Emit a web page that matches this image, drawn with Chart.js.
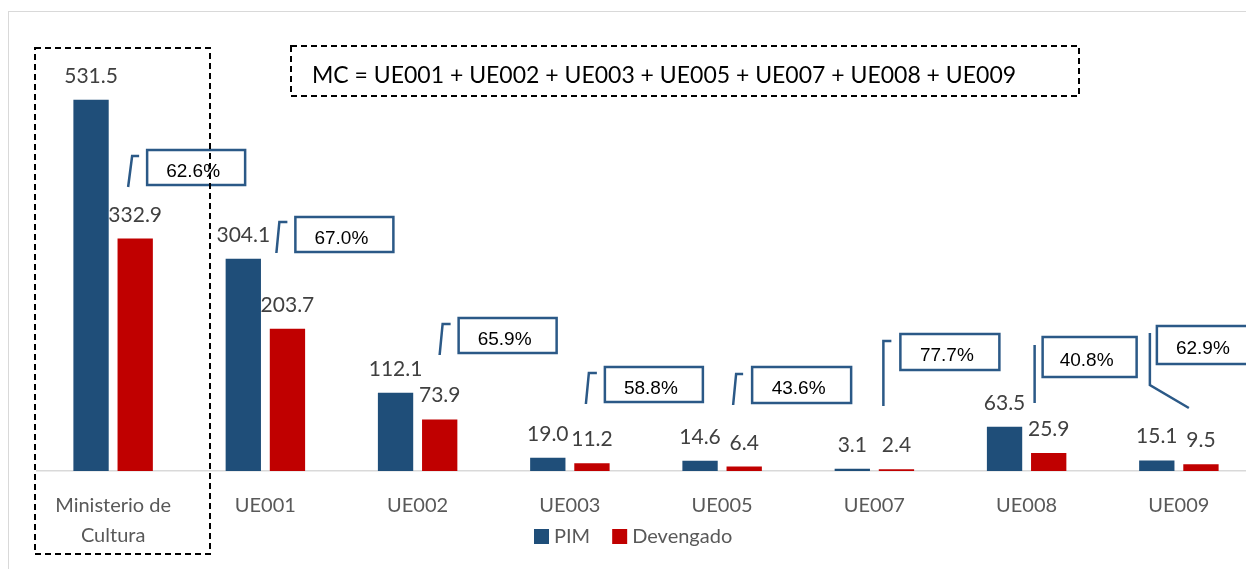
<!DOCTYPE html>
<html>
<head>
<meta charset="utf-8">
<script src="https://cdn.jsdelivr.net/npm/chart.js@4.4.0/dist/chart.umd.min.js"></script>
<style>
    html, body { margin: 0; padding: 0; background: #fff; overflow: hidden; width: 1246px; height: 569px; }
    #frame { position: absolute; left: 8px; top: 11px; width: 1300px; height: 600px; border: 1px solid #d9d9d9; }
    #chartContainer { position: absolute; left: 0; top: 0; width: 1260px; height: 569px; }
</style>
</head>
<body>
<div id="frame"></div>
<div id="chartContainer"><canvas id="myChart" width="1260" height="569"></canvas></div>
<script>
const categories = [["Ministerio de", "Cultura"], "UE001", "UE002", "UE003", "UE005", "UE007", "UE008", "UE009"];
const pim = [531.5, 304.1, 112.1, 19.0, 14.6, 3.1, 63.5, 15.1];
const devengado = [332.9, 203.7, 73.9, 11.2, 6.4, 2.4, 25.9, 9.5];
const avance = [62.6, 67.0, 65.9, 58.8, 43.6, 77.7, 40.8, 62.9];
const formula = "MC = UE001 + UE002 + UE003 + UE005 + UE007 + UE008 + UE009";

// where each % callout sits: offset from the category centre, box top, size, leader line (relative to box corner)
const calloutPos = [
    { dx: 34, top: 150, w: 98, h: 35, leader: [[-19, 37], [-15, 6], [-8, 6]] },
    { dx: 30, top: 217, w: 98, h: 35, leader: [[-19, 36], [-16, 5], [-8, 5]] },
    { dx: 41, top: 318, w: 98, h: 35, leader: [[-19, 37], [-16, 6], [-8, 6]] },
    { dx: 35, top: 367, w: 98, h: 35, leader: [[-19, 37], [-16, 6], [-8, 6]] },
    { dx: 30, top: 367, w: 99, h: 36, leader: [[-19, 38], [-16, 7], [-9, 7]] },
    { dx: 26, top: 334, w: 99, h: 36, leader: [[-17, 72], [-17, 7], [-9, 7]] },
    { dx: 16, top: 337, w: 94, h: 40, leader: [[-8, 8], [-8, 66]] },
    { dx: -22, top: 326, w: 98, h: 38, leader: [[-7, 7], [-7, 59], [32, 82]] },
];

const BLUE = "#1f4e79";
const RED = "#c00000";
const CALLOUT = "#2b5987";

const overlay = {
    id: "overlay",
    afterDatasetsDraw(chart) {
        const ctx = chart.ctx;
        const x = chart.scales.x;
        ctx.save();

        // value labels
        ctx.font = "21px Lato";
        ctx.fillStyle = "#404040";
        ctx.textAlign = "center";
        ctx.textBaseline = "alphabetic";
        chart.data.datasets.forEach((ds, d) => {
            chart.getDatasetMeta(d).data.forEach((bar, i) => {
                ctx.fillText(ds.data[i].toFixed(1), bar.x, bar.y - 17);
            });
        });

        // % callouts
        ctx.strokeStyle = CALLOUT;
        ctx.lineWidth = 2.5;
        ctx.font = "19px 'Liberation Sans', Arial, sans-serif";
        ctx.fillStyle = "#000";
        ctx.textBaseline = "middle";
        avance.forEach((p, i) => {
            const c = calloutPos[i];
            const bx = x.getPixelForValue(i) + c.dx;
            const by = c.top;
            ctx.strokeRect(bx, by, c.w, c.h);
            ctx.beginPath();
            c.leader.forEach((pt, k) => {
                if (k === 0) ctx.moveTo(bx + pt[0], by + pt[1]);
                else ctx.lineTo(bx + pt[0], by + pt[1]);
            });
            ctx.stroke();
            ctx.fillText(p.toFixed(1) + "%", bx + c.w / 2 - 3, by + c.h / 2 + 4);
        });

        // dashed boxes
        ctx.strokeStyle = "#000";
        ctx.lineWidth = 2;
        ctx.setLineDash([6, 4]);
        ctx.strokeRect(35, 48, 175, 506);
        ctx.strokeRect(291, 46, 788, 50);
        ctx.setLineDash([]);
        ctx.font = "23px Lato";
        ctx.textAlign = "left";
        ctx.textBaseline = "alphabetic";
        ctx.fillText(formula, 312, 83);

        // legend
        ctx.font = "20px Lato";
        ctx.textBaseline = "middle";
        let lx = 534;
        chart.data.datasets.forEach((ds) => {
            ctx.fillStyle = ds.backgroundColor;
            ctx.fillRect(lx, 529, 15, 15);
            ctx.fillStyle = "#595959";
            ctx.fillText(ds.label, lx + 20, 537);
            lx += 20 + ctx.measureText(ds.label).width + 22;
        });
        ctx.restore();
    },
};

const ctx = document.getElementById("myChart");
const myChart = new Chart(ctx, {
    type: "bar",
    data: {
        labels: categories,
        datasets: [
            { label: "PIM", data: pim, backgroundColor: BLUE },
            { label: "Devengado", data: devengado, backgroundColor: RED },
        ],
    },
    options: {
        responsive: false,
        animation: false,
        layout: { padding: { left: 37, right: 5, top: 52, bottom: 0 } },
        datasets: {
            bar: { categoryPercentage: 0.58, barPercentage: 0.8 },
        },
        scales: {
            y: { display: false, min: 0, max: 600 },
            x: {
                grid: { display: false, drawTicks: false },
                border: { display: true, color: "#d9d9d9", width: 1.5 },
                ticks: {
                    color: "#595959",
                    padding: 20,
                    font: { family: "Lato", size: 20, lineHeight: 1.5 },
                },
                afterFit: (scale) => { scale.height = 98; },
            },
        },
        plugins: {
            legend: { display: false },
            tooltip: { enabled: false },
        },
    },
    plugins: [overlay],
});
</script>
</body>
</html>
